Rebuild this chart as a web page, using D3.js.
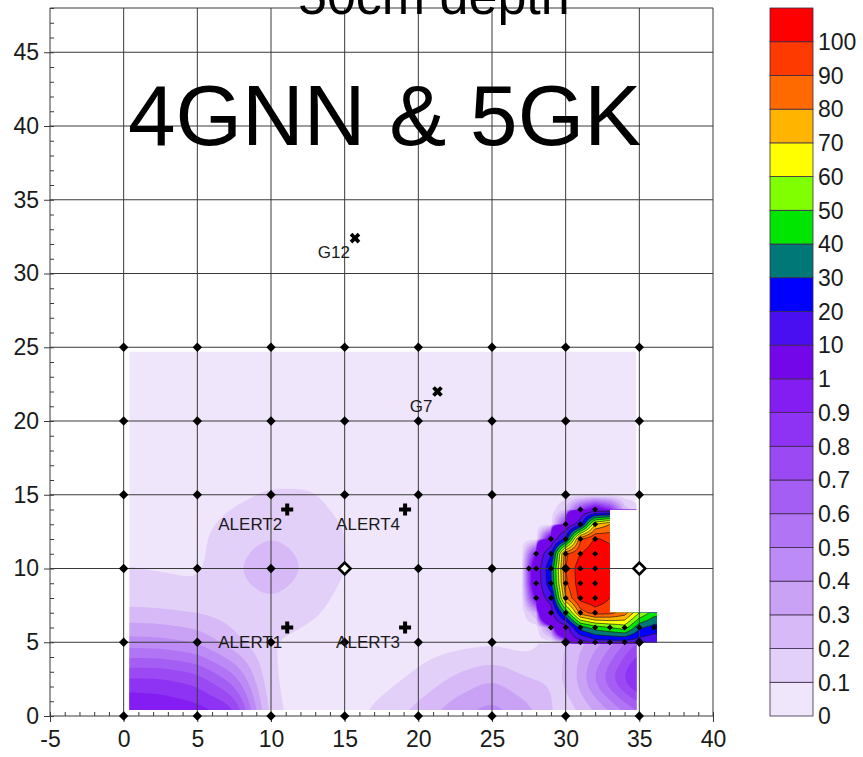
<!DOCTYPE html>
<html>
<head>
<meta charset="utf-8">
<script src="https://cdn.jsdelivr.net/npm/d3@7"></script>
<style>
  body { margin: 0; background: #fff; }
  text { font-family: "Liberation Sans", Arial, sans-serif; }
</style>
</head>
<body>
<div id="chart"></div>
<script>
// contour levels (lower edge of each band) and their colours, bottom band first
const levels = [0, 0.1, 0.2, 0.3, 0.4, 0.5, 0.6, 0.7, 0.8, 0.9, 1, 10, 20, 30, 40, 50, 60, 70, 80, 90, 100];
const levelLabels = ["0", "0.1", "0.2", "0.3", "0.4", "0.5", "0.6", "0.7", "0.8", "0.9", "1",
    "10", "20", "30", "40", "50", "60", "70", "80", "90", "100"];
const bandColors = ["#efe6fb", "#e3d0f8", "#d6b9f6", "#c9a2f5", "#bd8bf5", "#b174f4", "#a55ef4",
    "#9a49f3", "#8e33f3", "#841df2", "#7406ea", "#4a0ff0", "#0000ff", "#007878", "#00e600",
    "#80ff00", "#ffff00", "#ffb400", "#ff6a00", "#ff3a00", "#ff0000"];

// background values read on a 2.5 m grid (rows go up in y)
const bgX = [0, 2.5, 5, 7.5, 10, 12.5, 15, 17.5, 20, 22.5, 25, 27.5, 30, 32.5, 35];
const bgY = [0, 2.5, 5, 7.5, 10, 12.5, 15, 17.5, 20, 22.5, 25];
const bgValues = [
    [1.05, 1.02, 0.98, 0.9, 0.12, 0.06, 0.05, 0.14, 0.25, 0.38, 0.47, 0.35, 0.12, 0.3, 0.55],
    [0.82, 0.82, 0.76, 0.55, 0.1, 0.06, 0.05, 0.06, 0.12, 0.22, 0.3, 0.2, 0.18, 0.62, 1.0],
    [0.44, 0.43, 0.38, 0.22, 0.1, 0.07, 0.05, 0.05, 0.05, 0.06, 0.07, 0.05, 0.2, 0.4, 0.75],
    [0.18, 0.17, 0.15, 0.14, 0.17, 0.13, 0.07, 0.05, 0.05, 0.05, 0.05, 0.05, 0.05, 0.05, 0.05],
    [0.1, 0.09, 0.08, 0.18, 0.3, 0.18, 0.1, 0.05, 0.05, 0.05, 0.05, 0.05, 0.05, 0.05, 0.05],
    [0.07, 0.07, 0.08, 0.14, 0.18, 0.15, 0.1, 0.05, 0.05, 0.05, 0.05, 0.05, 0.05, 0.05, 0.05],
    [0.05, 0.05, 0.05, 0.08, 0.11, 0.11, 0.07, 0.05, 0.05, 0.05, 0.05, 0.05, 0.05, 0.05, 0.05],
    [0.05, 0.05, 0.05, 0.05, 0.05, 0.05, 0.05, 0.05, 0.05, 0.05, 0.05, 0.05, 0.05, 0.05, 0.05],
    [0.05, 0.05, 0.05, 0.05, 0.05, 0.05, 0.05, 0.05, 0.05, 0.05, 0.05, 0.05, 0.05, 0.05, 0.05],
    [0.05, 0.05, 0.05, 0.05, 0.05, 0.05, 0.05, 0.05, 0.05, 0.05, 0.05, 0.05, 0.05, 0.05, 0.05],
    [0.05, 0.05, 0.05, 0.05, 0.05, 0.05, 0.05, 0.05, 0.05, 0.05, 0.05, 0.05, 0.05, 0.05, 0.05]
];

// hot spot values read on a 1 m grid (rows go up in y)
const hotX = [27, 28, 29, 30, 31, 32, 33, 34, 35, 36];
const hotY = [5, 6, 7, 8, 9, 10, 11, 12, 13, 14, 15];
const hotValues = [
    [0.05, 0.05, 0.05, 0.3, 5, 14, 15, 15, 14, 12],
    [0.05, 0.05, 0.5, 3, 35, 45, 50, 55, 32, 26],
    [0.05, 0.3, 4, 40, 85, 95, 93, 85, 60, 45],
    [0.05, 1.1, 15, 80, 104, 108, 100, 95, 80, 60],
    [0.05, 1.5, 28, 88, 106, 112, 106, 100, 85, 65],
    [0.05, 1.5, 30, 90, 106, 112, 108, 100, 85, 65],
    [0.05, 1.0, 18, 88, 100, 108, 104, 95, 80, 60],
    [0.05, 0.05, 1.3, 22, 88, 101, 98, 90, 70, 50],
    [0.05, 0.05, 0.05, 0.9, 15, 70, 80, 80, 60, 40],
    [0.05, 0.05, 0.05, 0.2, 0.8, 1.2, 0.9, 0.25, 0.1, 0.05],
    [0.05, 0.05, 0.05, 0.05, 0.05, 0.05, 0.05, 0.05, 0.05, 0.05]
];

// outline of the gridded area
const boundary = [[0.4, 0.4], [34.8, 0.4], [34.8, 5], [36.2, 5], [36.2, 7], [33, 7], [33, 14],
    [34.8, 14], [34.8, 24.7], [0.4, 24.7]];

// sampling points
const gridX = [0, 5, 10, 15, 20, 25, 30, 35];
const gridY = [0, 5, 10, 15, 20, 25];
const openPoints = [[15, 10], [35, 10]];
const hotDots = [
    [31, 14], [32, 14],
    [30, 13], [31, 13], [32, 13],
    [29, 12], [30, 12], [31, 12], [32, 12],
    [28, 11], [29, 11], [30, 11], [31, 11], [32, 11],
    [27.5, 10], [28, 10], [29, 10], [31, 10], [32, 10],
    [28, 9], [29, 9], [30, 9], [31, 9], [32, 9],
    [28, 8], [29, 8], [30, 8], [31, 8], [32, 8],
    [29, 7], [30, 7], [31, 7], [32, 7],
    [29, 6], [30, 6], [31, 6], [32, 6], [33, 6], [34, 6], [35, 6], [36, 6],
    [31, 5], [32, 5], [33, 5], [34, 5]
];
const alerts = [
    { name: "ALERT1", x: 11.1, y: 6 },
    { name: "ALERT2", x: 11.1, y: 14 },
    { name: "ALERT3", x: 19.1, y: 6 },
    { name: "ALERT4", x: 19.1, y: 14 }
];
const gauges = [
    { name: "G12", x: 15.7, y: 32.4 },
    { name: "G7", x: 21.3, y: 22 }
];

const xTicks = [-5, 0, 5, 10, 15, 20, 25, 30, 35, 40];
const yTicks = [0, 5, 10, 15, 20, 25, 30, 35, 40, 45];

function bilinear(xs, ys, vals, px, py) {
    const i = Math.max(0, Math.min(xs.length - 2, d3.bisectRight(xs, px) - 1));
    const j = Math.max(0, Math.min(ys.length - 2, d3.bisectRight(ys, py) - 1));
    const tx = Math.max(0, Math.min(1, (px - xs[i]) / (xs[i + 1] - xs[i])));
    const ty = Math.max(0, Math.min(1, (py - ys[j]) / (ys[j + 1] - ys[j])));
    const lo = vals[j][i] * (1 - tx) + vals[j][i + 1] * tx;
    const hi = vals[j + 1][i] * (1 - tx) + vals[j + 1][i + 1] * tx;
    return lo * (1 - ty) + hi * ty;
}

function drawMap() {
    const width = 863, height = 757;
    const font = "'Liberation Sans', Arial, sans-serif";

    const svg = d3.select("#chart")
        .append("svg")
        .attr("width", width)
        .attr("height", height);

    const x = d3.scaleLinear().domain([-5, 40]).range([50, 713]);
    const y = d3.scaleLinear().domain([0, 48]).range([716, 8]);

    // grid the surface: background first (smoothed), hot spot laid over it
    const step = 0.1;
    const nx = 366, ny = 251;
    const field = new Float64Array(nx * ny);
    for (let j = 0; j < ny; j++) {
        for (let i = 0; i < nx; i++) {
            field[j * nx + i] = bilinear(bgX, bgY, bgValues, i / 10, j / 10);
        }
    }
    if (d3.blur2) d3.blur2({ data: field, width: nx, height: ny }, 5);
    for (let j = 0; j < ny; j++) {
        for (let i = 0; i < nx; i++) {
            const gx = i / 10, gy = j / 10;
            if (gx >= 27 && gy >= 5 && gy <= 15) {
                field[j * nx + i] = bilinear(hotX, hotY, hotValues, gx, gy);
            }
        }
    }

    const contours = d3.contours().size([nx, ny]).thresholds(levels)(Array.from(field));

    const proj = d3.geoTransform({
        point: function (px, py) {
            this.stream.point(x((px - 0.5) * step), y((py - 0.5) * step));
        }
    });
    const path = d3.geoPath(proj);

    svg.append("clipPath").attr("id", "domain")
        .append("path")
        .attr("d", "M" + boundary.map(d => [x(d[0]), y(d[1])].join(",")).join("L") + "Z");

    const map = svg.append("g").attr("clip-path", "url(#domain)");
    map.selectAll("path.band")
        .data(contours)
        .join("path")
        .attr("class", "band")
        .attr("d", path)
        .attr("fill", (d, i) => bandColors[i]);
    map.selectAll("path.iso")
        .data(contours.filter(d => d.value >= 10))
        .join("path")
        .attr("class", "iso")
        .attr("d", path)
        .attr("fill", "none")
        .attr("stroke", "#1a1a1a")
        .attr("stroke-width", 0.7);

    // grid lines and frame
    const grid = svg.append("g").attr("stroke", "#3a3a3a").attr("stroke-width", 1);
    grid.selectAll("line.v").data(xTicks).join("line").attr("class", "v")
        .attr("x1", d => x(d)).attr("x2", d => x(d))
        .attr("y1", y(0)).attr("y2", y(48));
    grid.selectAll("line.h").data(yTicks.concat([48])).join("line").attr("class", "h")
        .attr("x1", x(-5)).attr("x2", x(40))
        .attr("y1", d => y(d)).attr("y2", d => y(d));

    // axes
    const plain = d => String(d);
    const xAxis = svg.append("g")
        .attr("transform", `translate(0,${y(0)})`)
        .call(d3.axisBottom(x).tickValues(xTicks).tickFormat(plain).tickSize(6).tickPadding(9));
    const yAxis = svg.append("g")
        .attr("transform", `translate(${x(-5)},0)`)
        .call(d3.axisLeft(y).tickValues(yTicks).tickFormat(plain).tickSize(6).tickPadding(5));
    svg.append("g")
        .attr("transform", `translate(0,${y(0)})`)
        .call(d3.axisBottom(x).tickValues(d3.range(-5, 41)).tickSize(-4).tickFormat(""));
    svg.append("g")
        .attr("transform", `translate(${x(-5)},0)`)
        .call(d3.axisLeft(y).tickValues(d3.range(0, 49)).tickSize(-4).tickFormat(""));
    svg.selectAll(".domain").remove();
    svg.selectAll(".tick line").attr("stroke", "#3a3a3a");
    [xAxis, yAxis].forEach(a => a.selectAll("text")
        .attr("font-size", 23).attr("font-family", font).attr("fill", "#1a1a1a"));

    // sampling points
    const diamond = s => d3.symbol(d3.symbolSquare, s)();
    const isOpen = d => openPoints.some(p => p[0] === d[0] && p[1] === d[1]);
    svg.append("g").selectAll("path")
        .data(d3.cross(gridX, gridY).filter(d => !isOpen(d)))
        .join("path")
        .attr("transform", d => `translate(${x(d[0])},${y(d[1])}) rotate(45)`)
        .attr("d", diamond(44))
        .attr("fill", "#000");
    svg.append("g").selectAll("path")
        .data(hotDots)
        .join("path")
        .attr("transform", d => `translate(${x(d[0])},${y(d[1])}) rotate(45)`)
        .attr("d", diamond(18))
        .attr("fill", "#000");
    svg.append("g").selectAll("path")
        .data(openPoints)
        .join("path")
        .attr("transform", d => `translate(${x(d[0])},${y(d[1])}) rotate(45)`)
        .attr("d", diamond(70))
        .attr("fill", "#fff")
        .attr("stroke", "#000")
        .attr("stroke-width", 2.6);

    // alert and gauge markers
    const markers = svg.append("g");
    markers.selectAll("path.alert").data(alerts).join("path").attr("class", "alert")
        .attr("transform", d => `translate(${x(d.x)},${y(d.y)})`)
        .attr("d", d3.symbol(d3.symbolCross, 80)())
        .attr("fill", "#000");
    markers.selectAll("path.gauge").data(gauges).join("path").attr("class", "gauge")
        .attr("transform", d => `translate(${x(d.x)},${y(d.y)}) rotate(45)`)
        .attr("d", d3.symbol(d3.symbolCross, 70)())
        .attr("fill", "#000");
    markers.selectAll("text")
        .data(alerts.concat(gauges))
        .join("text")
        .attr("x", d => x(d.x) - 5)
        .attr("y", d => y(d.y) + 20)
        .attr("text-anchor", "end")
        .attr("font-size", 17)
        .attr("fill", "#1a1a1a")
        .text(d => d.name);

    // titles (the upper one runs off the top edge, as in the original)
    svg.append("text")
        .attr("x", 298).attr("y", 14)
        .attr("font-size", 52)
        .attr("fill", "#000")
        .text("50cm depth");
    svg.append("text")
        .attr("x", 128).attr("y", 145)
        .attr("font-size", 85.5)
        .attr("fill", "#000")
        .text("4GNN & 5GK");

    // colour scale
    const band = d3.scaleBand().domain(d3.range(levels.length)).range([716, 8]).padding(0);
    const legend = svg.append("g");
    legend.selectAll("rect")
        .data(levels)
        .join("rect")
        .attr("x", 770)
        .attr("width", 43)
        .attr("y", (d, i) => band(i))
        .attr("height", band.bandwidth())
        .attr("fill", (d, i) => bandColors[i])
        .attr("stroke", "#3b2a4a")
        .attr("stroke-width", 0.8);
    legend.selectAll("text")
        .data(levelLabels)
        .join("text")
        .attr("x", 818)
        .attr("y", (d, i) => band(i) + band.bandwidth())
        .attr("dy", "0.36em")
        .attr("font-size", 23)
        .attr("fill", "#1a1a1a")
        .text(d => d);
}

drawMap();
</script>
</body>
</html>
